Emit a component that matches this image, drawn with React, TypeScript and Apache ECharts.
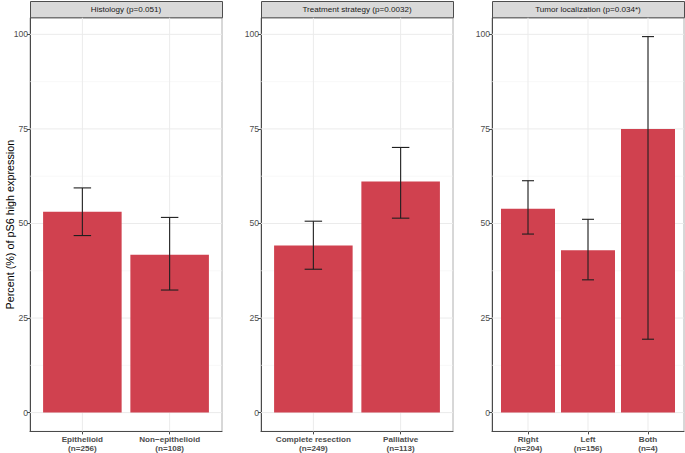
import React, { useEffect, useRef } from "react";
import * as echarts from "echarts";

const histCats = ["Epithelioid", "Non\u2212epithelioid"];
const histN = [256, 108];
const histPct = [53.1, 41.7];
const histLo = [46.8, 32.4];
const histHi = [59.4, 51.6];

const treatCats = ["Complete resection", "Palliative"];
const treatN = [249, 113];
const treatPct = [44.2, 61.1];
const treatLo = [37.9, 51.4];
const treatHi = [50.6, 70.1];

const locCats = ["Right", "Left", "Both"];
const locN = [204, 156, 4];
const locPct = [53.9, 42.9, 75.0];
const locLo = [47.2, 35.1, 19.4];
const locHi = [61.3, 51.1, 99.4];

const stripTitles = ["Histology (p=0.051)", "Treatment strategy (p=0.0032)", "Tumor localization (p=0.034*)"];
const yTicks = [0, 25, 50, 75, 100];
const yMinor = [12.5, 37.5, 62.5, 87.5];
const yTitle = "Percent (%) of pS6 high expression";

const panels = [
  { cats: histCats, n: histN, pct: histPct, lo: histLo, hi: histHi },
  { cats: treatCats, n: treatN, pct: treatPct, lo: treatLo, hi: treatHi },
  { cats: locCats, n: locN, pct: locPct, lo: locLo, hi: locHi },
];

const PANEL_LEFT = [30, 261, 492];
const PANEL_W = 192;
const PANEL_TOP = 17.8;
const PANEL_H = 413.7;
const Y_MIN = -4.97;
const Y_MAX = 104.37;
const FONT = "'Liberation Sans', Arial, Helvetica, sans-serif";
const BAR_COLOR = "#d0414f";

export default function App() {
  const ref = useRef<HTMLDivElement>(null);
  useEffect(() => {
    if (!ref.current) return;
    const chart = echarts.init(ref.current, null, { renderer: "svg" });
    const grid: any[] = [];
    const xAxis: any[] = [];
    const yAxis: any[] = [];
    const series: any[] = [];
    const graphic: any[] = [];

    panels.forEach((p, i) => {
      const k = p.cats.length;
      const xMin = 0.4;
      const xMax = k + 0.6;
      const xVals = p.cats.map((_, j) => j + 1);
      const labels = p.cats.map((c, j) => `${c}\n(n=${p.n[j]})`);
      grid.push({
        left: PANEL_LEFT[i],
        top: PANEL_TOP,
        width: PANEL_W,
        height: PANEL_H,
        show: true,
        backgroundColor: "#ffffff",
        borderColor: "#b0b0b0",
        borderWidth: 1,
      });
      xAxis.push({
        gridIndex: i,
        type: "value",
        min: xMin,
        max: xMax,
        axisLine: { show: true, onZero: false, lineStyle: { color: "#4a4a4a", width: 1 } },
        axisTick: { show: true, customValues: xVals, length: 3, lineStyle: { color: "#4a4a4a" } },
        axisLabel: {
          customValues: xVals,
          formatter: (v: number) => labels[Math.round(v) - 1] ?? "",
          color: "#4d4d4d",
          fontWeight: "bold",
          fontSize: 8.1,
          lineHeight: 8.8,
          margin: 4,
          fontFamily: FONT,
        },
        splitLine: { show: false },
      });
      yAxis.push({
        gridIndex: i,
        type: "value",
        min: Y_MIN,
        max: Y_MAX,
        axisLine: { show: true, onZero: false, lineStyle: { color: "#4a4a4a", width: 1 } },
        axisTick: { show: true, customValues: yTicks, length: 3, lineStyle: { color: "#4a4a4a" } },
        axisLabel: {
          customValues: yTicks,
          color: "#4d4d4d",
          fontSize: 8.6,
          margin: 2,
          fontFamily: FONT,
        },
        splitLine: { show: false },
      });

      const gridData: any[] = [
        ...yTicks.map((v) => [0, v, 1]),
        ...yMinor.map((v) => [0, v, 0]),
        ...xVals.map((v) => [1, v, 1]),
      ];
      series.push({
        type: "custom",
        xAxisIndex: i,
        yAxisIndex: i,
        silent: true,
        z: 1,
        data: gridData,
        renderItem: (_params: any, api: any) => {
          const t = api.value(0);
          const v = api.value(1);
          const major = api.value(2) === 1;
          let a, b;
          if (t === 0) {
            a = api.coord([xMin, v]);
            b = api.coord([xMax, v]);
          } else {
            a = api.coord([v, Y_MIN]);
            b = api.coord([v, Y_MAX]);
          }
          return {
            type: "line",
            shape: { x1: a[0], y1: a[1], x2: b[0], y2: b[1] },
            style: { stroke: major ? "#ebebeb" : "#f3f3f3", lineWidth: major ? 1 : 0.6 },
          };
        },
      });
      series.push({
        type: "bar",
        xAxisIndex: i,
        yAxisIndex: i,
        z: 2,
        barWidth: (0.9 * PANEL_W) / (k + 0.2),
        itemStyle: { color: BAR_COLOR },
        data: p.pct.map((v, j) => [j + 1, v]),
      });
      series.push({
        type: "custom",
        xAxisIndex: i,
        yAxisIndex: i,
        z: 3,
        silent: true,
        data: p.lo.map((lo, j) => [j + 1, lo, p.hi[j]]),
        renderItem: (_params: any, api: any) => {
          const x = api.value(0);
          const top = api.coord([x, api.value(2)]);
          const bot = api.coord([x, api.value(1)]);
          const hw = api.size([0.1, 0])[0];
          const st = { stroke: "#1f1f1f", lineWidth: 1.1 };
          return {
            type: "group",
            children: [
              { type: "line", shape: { x1: top[0], y1: top[1], x2: bot[0], y2: bot[1] }, style: st },
              { type: "line", shape: { x1: top[0] - hw, y1: top[1], x2: top[0] + hw, y2: top[1] }, style: st },
              { type: "line", shape: { x1: bot[0] - hw, y1: bot[1], x2: bot[0] + hw, y2: bot[1] }, style: st },
            ],
          };
        },
      });

      graphic.push({
        type: "rect",
        left: PANEL_LEFT[i],
        top: 1,
        shape: { width: PANEL_W, height: PANEL_TOP - 1.5 },
        style: { fill: "#d9d9d9", stroke: "#4d4d4d", lineWidth: 1 },
      });
      graphic.push({
        type: "text",
        x: PANEL_LEFT[i] + PANEL_W / 2,
        y: 9.3,
        style: {
          text: stripTitles[i],
          fill: "#1a1a1a",
          fontSize: 8.1,
          fontFamily: FONT,
          align: "center",
          verticalAlign: "middle",
        },
      });
    });

    graphic.push({
      type: "text",
      x: 9.5,
      y: PANEL_TOP + PANEL_H / 2,
      rotation: Math.PI / 2,
      style: {
        text: yTitle,
        fill: "#000000",
        fontSize: 10.8,
        fontFamily: FONT,
        align: "center",
        verticalAlign: "middle",
      },
    });

    chart.setOption({
      animation: false,
      backgroundColor: "#ffffff",
      grid,
      xAxis,
      yAxis,
      series,
      graphic,
    });
    return () => chart.dispose();
  }, []);
  return (
    <div
      ref={ref}
      style={{ position: "fixed", left: 0, top: 0, width: 685, height: 453 }}
    />
  );
}
